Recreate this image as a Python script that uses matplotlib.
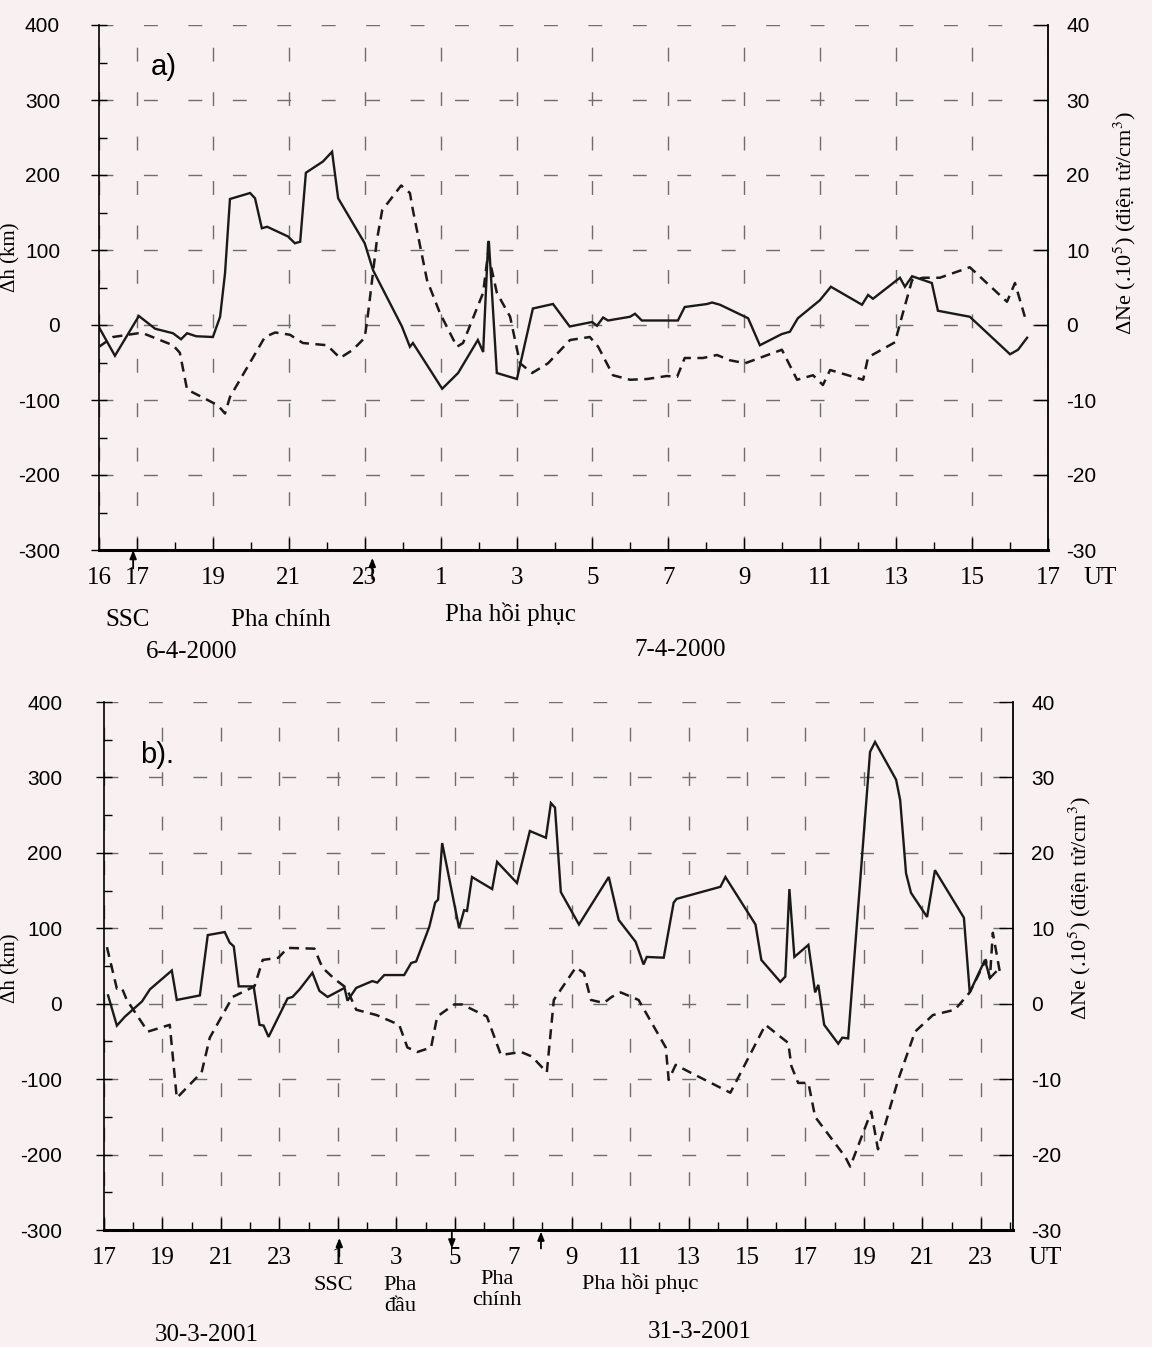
import matplotlib
matplotlib.use("Agg")
import matplotlib.pyplot as plt
import matplotlib.ticker as ticker
from matplotlib.transforms import blended_transform_factory

plt.rcParams["mathtext.fontset"] = "stix"

SERIF = ["Liberation Serif", "DejaVu Serif"]
SANS = ["Liberation Sans", "DejaVu Sans"]

# ---- Panel a: 6/7-4-2000 (hours counted from 0 UT on 6-4-2000) ----
a_dh_t = [16.0, 16.42, 17.05, 17.48, 17.95, 18.16, 18.32, 18.56, 19.0, 19.19, 19.32, 19.45,
          19.98, 20.11, 20.29, 20.43, 20.98, 21.16, 21.3, 21.45, 21.9, 22.14, 22.3, 23.0,
          23.22, 23.98, 24.19, 24.27, 25.04, 25.46, 25.98, 26.12, 26.25, 26.27, 26.48, 27.01,
          27.43, 27.96, 28.4, 28.99, 29.12, 29.28, 29.41, 29.99, 30.12, 30.3, 31.25, 31.43,
          32.02, 32.15, 32.36, 33.1, 33.41, 33.99, 34.2, 34.41, 34.99, 35.28, 36.1, 36.26,
          36.39, 37.1, 37.23, 37.42, 37.94, 38.1, 38.94, 40.0, 40.21, 40.45]
a_dh = [-3, -41, 12, -5, -11, -19, -11, -15, -16, 11, 69, 168,
        176, 169, 129, 131, 118, 109, 111, 203, 218, 231, 169, 109,
        73, -2, -29, -24, -85, -64, -20, -36, 109, 112, -64, -72,
        22, 28, -2, 4, -1, 10, 6, 11, 15, 6, 6, 24,
        28, 30, 27, 9, -27, -12, -9, 9, 33, 51, 27, 40,
        35, 63, 51, 65, 56, 19, 11, -39, -33, -17]

a_ne_t = [16.0, 16.37, 17.03, 17.16, 17.95, 18.13, 18.32, 19.13, 19.32, 19.45, 20.06, 20.37,
          20.64, 21.03, 21.37, 22.01, 22.35, 22.69, 23.0, 23.09, 23.32, 23.46, 23.96, 24.19,
          24.27, 24.64, 24.98, 25.43, 25.59, 26.12, 26.25, 26.48, 26.83, 27.09, 27.41, 27.83,
          28.41, 28.93, 29.15, 29.54, 29.99, 30.44, 30.96, 31.23, 31.43, 31.91, 32.28, 32.62,
          33.02, 33.99, 34.39, 34.81, 35.07, 35.26, 36.13, 36.26, 36.97, 37.15, 37.42, 37.71,
          38.15, 38.94, 39.92, 40.13, 40.39]
a_ne = [-2.9, -1.6, -1.1, -1.1, -2.7, -3.7, -8.6, -10.7, -11.8, -9.6, -4.3, -1.6,
        -1.0, -1.3, -2.4, -2.7, -4.4, -3.3, -1.7, 1.6, 11.3, 15.3, 18.6, 17.6,
        15.3, 6.0, 1.6, -2.9, -2.4, 4.3, 9.6, 4.3, 1.1, -5.1, -6.4, -5.1,
        -2.0, -1.6, -2.9, -6.7, -7.3, -7.2, -6.8, -6.9, -4.4, -4.4, -4.0, -4.7,
        -5.1, -3.3, -7.3, -6.7, -8.0, -6.0, -7.3, -4.3, -2.3, 1.1, 6.0, 6.3,
        6.3, 7.7, 3.1, 5.6, 1.1]

# ---- Panel b: 30/31-3-2001 ----
b_dh_t = [17.14, 17.44, 17.72, 18.3, 18.57, 19.32, 19.49, 20.28, 20.55, 21.13, 21.3, 21.44,
          21.61, 22.12, 22.32, 22.46, 22.63, 23.28, 23.45, 23.69, 24.13, 24.37, 24.65, 25.23,
          25.33, 25.63, 26.18, 26.35, 26.59, 27.27, 27.51, 27.68, 28.13, 28.33, 28.43, 28.57,
          29.15, 29.32, 29.42, 29.59, 30.28, 30.45, 31.13, 31.57, 32.12, 32.29, 32.43, 32.63,
          33.25, 34.27, 34.61, 35.19, 35.46, 35.57, 36.15, 36.49, 36.59, 38.09, 38.26, 39.29,
          39.49, 40.14, 40.31, 40.45, 40.62, 41.1, 41.33, 41.44, 41.64, 42.12, 42.26, 42.46,
          43.21, 43.38, 44.1, 44.24, 44.44, 44.61, 45.16, 45.43, 46.42, 46.62, 47.14, 47.31,
          47.51]
b_dh = [11, -29, -17, 3, 19, 44, 5, 11, 91, 95, 81, 76,
        23, 23, -28, -29, -44, 7, 9, 19, 41, 17, 9, 21,
        4, 21, 30, 28, 38, 38, 54, 56, 102, 134, 138, 213,
        100, 124, 123, 168, 152, 188, 160, 229, 220, 266, 260, 148,
        105, 168, 111, 82, 52, 62, 61, 134, 139, 155, 168, 105,
        58, 29, 36, 152, 62, 78, 15, 25, -28, -53, -45, -46,
        334, 347, 297, 270, 173, 147, 115, 177, 114, 15, 58, 34,
        42]

b_ne_t = [17.1, 17.44, 17.61, 17.78, 18.5, 19.25, 19.49, 20.34, 20.62, 21.4, 22.15, 22.43,
          22.97, 23.28, 24.2, 24.47, 24.88, 25.29, 25.63, 26.32, 27.1, 27.38, 27.72, 28.19,
          28.4, 28.98, 29.25, 30.1, 30.58, 31.27, 31.64, 32.15, 32.39, 33.14, 33.42, 33.66,
          34.1, 34.37, 34.68, 35.29, 36.22, 36.32, 36.56, 37.0, 38.43, 39.63, 40.41, 40.52,
          40.75, 41.1, 41.33, 42.36, 42.53, 43.25, 43.48, 44.17, 44.75, 45.36, 46.11, 46.62,
          47.17, 47.31, 47.41, 47.65]
b_ne = [7.5, 2.0, 2.1, 0.5, -3.7, -2.8, -12.5, -9.1, -4.5, 0.9, 2.3, 5.8,
        6.1, 7.4, 7.3, 4.8, 3.3, 2.1, -0.8, -1.5, -2.8, -5.8, -6.4, -5.8,
        -1.7, -0.1, -0.1, -1.7, -6.8, -6.4, -7.0, -9.1, 0.5, 4.8, 4.1, 0.5,
        0.1, 0.9, 1.5, 0.5, -5.8, -10.1, -8.1, -9.0, -11.8, -2.8, -5.2, -8.3,
        -10.5, -10.5, -15.0, -20.3, -21.6, -14.3, -19.3, -10.1, -3.7, -1.5, -0.8, 1.5,
        5.8, 3.4, 9.4, 4.2]

dh_ticks = [-300, -200, -100, 0, 100, 200, 300, 400]
a_dh_labels = ["-300", "-200", "-100", "0", "100", "200", "300", "400"]
b_dh_labels = ["-300", "-200", "-100", "0", "100", "200", "300", "400"]
ne_ticks = [-30, -20, -10, 0, 10, 20, 30, 40]
ne_labels = ["-30", "-20", "-10", "0", "10", "20", "30", "40"]

a_x_ticks = [16, 17, 19, 21, 23, 25, 27, 29, 31, 33, 35, 37, 39, 41]
b_x_ticks = [17, 19, 21, 23, 25, 27, 29, 31, 33, 35, 37, 39, 41, 43, 45, 47]

W, H = 1152, 1347
BG = "#f8f0f1"


def fx(px):
    return px / W


def fy(py):
    return 1 - py / H


def setup_panel(ax, xlim, xticks, ylabels, lpad, rpad):
    ax.set_xlim(*xlim)
    ax.set_ylim(-300, 400)
    ax.set_facecolor("none")
    ax.spines["top"].set_visible(False)
    ax.spines["left"].set_linewidth(1.2)
    ax.spines["right"].set_visible(False)
    ax.spines["bottom"].set_linewidth(2.2)

    ax.xaxis.set_major_locator(ticker.FixedLocator(xticks))
    ax.xaxis.set_minor_locator(ticker.MultipleLocator(1))
    ax.set_xticklabels([str(int(t) % 24) for t in xticks], family=SERIF, fontsize=18)
    ax.tick_params(axis="x", which="major", direction="in", length=9, width=1, pad=12)
    ax.tick_params(axis="x", which="minor", direction="in", length=6, width=1)

    ax.yaxis.set_major_locator(ticker.FixedLocator(dh_ticks))
    ax.yaxis.set_minor_locator(ticker.MultipleLocator(50))
    ax.set_yticklabels(ylabels, family=SANS, fontsize=15)
    ax.tick_params(axis="y", which="major", direction="inout", length=12, width=1, pad=lpad)
    ax.tick_params(axis="y", which="minor", direction="in", length=6, width=1)

    ax.grid(True, which="major", color="#6e6e6e", linewidth=1.0, linestyle=(0, (10, 22)))

    ax2 = ax.twinx()
    ax2.set_ylim(-30, 40)
    ax2.set_facecolor("none")
    for s in ["top", "left", "bottom"]:
        ax2.spines[s].set_visible(False)
    ax2.spines["right"].set_linewidth(1.3)
    ax2.yaxis.set_major_locator(ticker.FixedLocator(ne_ticks))
    ax2.set_yticklabels(ne_labels, family=SANS, fontsize=15)
    ax2.tick_params(axis="y", direction="in", length=10, width=1, pad=rpad)
    return ax2


def arrow(ax, x, y0, y1):
    trans = blended_transform_factory(ax.transData, ax.transAxes)
    ax.annotate("", xy=(x, y1), xytext=(x, y0), xycoords=trans, textcoords=trans,
                arrowprops=dict(arrowstyle="-|>,head_length=0.5,head_width=0.2",
                                color="black", lw=1.3, shrinkA=0, shrinkB=0),
                annotation_clip=False)


fig = plt.figure(figsize=(W / 100, H / 100), dpi=100, facecolor=BG)

# ---- Panel a ----
ax_a = fig.add_axes([fx(99), fy(550), fx(1048) - fx(99), (550 - 25) / H])
ax_a2 = setup_panel(ax_a, (16, 41), a_x_ticks, a_dh_labels, lpad=22, rpad=13)
ax_a.plot(a_dh_t, a_dh, color="#1a1a1a", lw=1.7, solid_joinstyle="miter")
ax_a2.plot(a_ne_t, a_ne, color="#1a1a1a", lw=1.8, linestyle=(0, (4, 2.6)))
ax_a.text(0.055, 0.92, "a)", transform=ax_a.transAxes, fontsize=21, family=SANS,
          ha="left", va="center")
arrow(ax_a, 16.9, -0.035, 0.0)
arrow(ax_a, 23.2, -0.055, -0.015)

fig.text(fx(11), fy(257), "Δh (km)", rotation=90, ha="center", va="center",
         fontsize=15, family=SERIF)
fig.text(fx(1125), fy(223), r"ΔNe (.10$^{5}$) (điện tử/cm$^{3}$)", rotation=90,
         ha="center", va="center", fontsize=16, family=SERIF)
fig.text(fx(1100), fy(578), "UT", ha="center", va="center", fontsize=18, family=SERIF)
fig.text(fx(128), fy(620), "SSC", ha="center", va="center", fontsize=18, family=SERIF)
fig.text(fx(281), fy(620), "Pha chính", ha="center", va="center", fontsize=18, family=SERIF)
fig.text(fx(510), fy(614), "Pha hồi phục", ha="center", va="center", fontsize=18, family=SERIF)
fig.text(fx(192), fy(652), "6-4-2000", ha="center", va="center", fontsize=18, family=SERIF)
fig.text(fx(680), fy(650), "7-4-2000", ha="center", va="center", fontsize=18, family=SERIF)

# ---- Panel b ----
ax_b = fig.add_axes([fx(104), fy(1230), fx(1013) - fx(104), (1230 - 702) / H])
ax_b2 = setup_panel(ax_b, (17, 48.1), b_x_ticks, b_dh_labels, lpad=24, rpad=13)
ax_b.plot(b_dh_t, b_dh, color="#1a1a1a", lw=1.7, solid_joinstyle="miter")
ax_b2.plot(b_ne_t, b_ne, color="#1a1a1a", lw=1.8, linestyle=(0, (4, 2.6)))
ax_b.text(0.04, 0.9, "b).", transform=ax_b.transAxes, fontsize=21, family=SANS,
          ha="left", va="center")
arrow(ax_b, 25.05, -0.05, -0.015)
arrow(ax_b, 28.9, -0.005, -0.035)
arrow(ax_b, 31.95, -0.035, -0.003)

fig.text(fx(11), fy(968), "Δh (km)", rotation=90, ha="center", va="center",
         fontsize=15, family=SERIF)
fig.text(fx(1080), fy(908), r"ΔNe (.10$^{5}$) (điện tử/cm$^{3}$)", rotation=90,
         ha="center", va="center", fontsize=16, family=SERIF)
fig.text(fx(1045), fy(1258), "UT", ha="center", va="center", fontsize=18, family=SERIF)
fig.text(fx(333), fy(1285), "SSC", ha="center", va="center", fontsize=16, family=SERIF)
fig.text(fx(400), fy(1296), "Pha\nđầu", ha="center", va="center", fontsize=16,
         family=SERIF, linespacing=1.1)
fig.text(fx(497), fy(1290), "Pha\nchính", ha="center", va="center", fontsize=16,
         family=SERIF, linespacing=1.1)
fig.text(fx(640), fy(1284), "Pha hồi phục", ha="center", va="center", fontsize=16, family=SERIF)
fig.text(fx(207), fy(1335), "30-3-2001", ha="center", va="center", fontsize=18, family=SERIF)
fig.text(fx(700), fy(1332), "31-3-2001", ha="center", va="center", fontsize=18, family=SERIF)

fig.savefig("out.png", dpi=100, facecolor=BG)
